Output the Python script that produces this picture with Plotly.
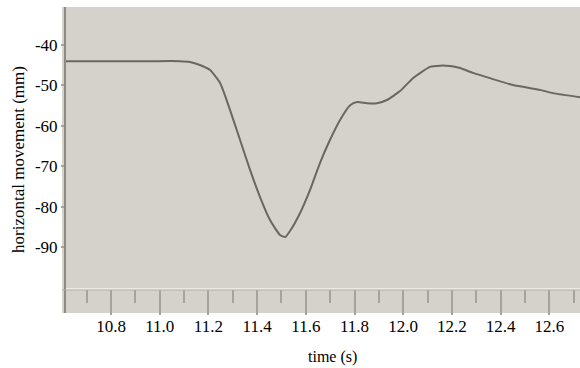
import plotly.graph_objects as go

time_s = [10.607, 10.755, 10.96, 11.083, 11.124, 11.165, 11.207, 11.248, 11.289, 11.33,
          11.371, 11.412, 11.453, 11.494, 11.515, 11.535, 11.576, 11.617, 11.658, 11.699,
          11.74, 11.782, 11.81, 11.851, 11.892, 11.933, 11.987, 12.04, 12.11, 12.151,
          12.192, 12.233, 12.287, 12.356, 12.451, 12.562, 12.615, 12.726]
movement_mm = [-44.0, -44.0, -44.0, -44.0, -44.2, -44.95, -46.2, -49.4, -56.1, -63.5,
               -70.9, -77.6, -83.3, -87.0, -87.5, -86.0, -81.6, -75.9, -69.2, -63.5,
               -58.6, -54.9, -54.1, -54.4, -54.4, -53.6, -51.4, -48.2, -45.4, -45.1,
               -45.2, -45.7, -46.9, -48.2, -49.9, -51.1, -51.9, -52.9]
x_ticks = [10.8, 11.0, 11.2, 11.4, 11.6, 11.8, 12.0, 12.2, 12.4, 12.6]
y_ticks = [-40, -50, -60, -70, -80, -90]
x_title = "time (s)"
y_title = "horizontal movement (mm)"

PANEL = "#d5d1cb"
FONT = "Liberation Serif"

fig = go.Figure()
fig.add_trace(go.Scatter(x=time_s, y=movement_mm, mode="lines",
                         line=dict(color="#6a6763", width=2, shape="spline", smoothing=0.5),
                         hoverinfo="skip", showlegend=False))

W, H = 580, 368
ml, mr, mt, mb = 65, 0, 7, 80
pw, ph = W - ml - mr, H - mt - mb

# grey panel including bottom tick strip
fig.add_shape(type="rect", xref="paper", yref="paper",
              x0=-3 / pw, x1=1, y0=-25 / ph, y1=1,
              fillcolor=PANEL, line=dict(width=0), layer="below")
# vertical axis line running through the strip
fig.add_shape(type="line", xref="paper", yref="paper",
              x0=0, x1=0, y0=-25 / ph, y1=1,
              line=dict(color="#8d8983", width=2))
# darker edge under the light strip line
fig.add_shape(type="line", xref="paper", yref="paper",
              x0=-3 / pw, x1=1, y0=-2 / ph, y1=-2 / ph,
              line=dict(color="#b3afa9", width=1))

# axis titles
fig.add_annotation(text=y_title, xref="paper", yref="paper",
                   x=(18 - ml) / pw, y=(H - mb - 160) / ph, textangle=-90,
                   showarrow=False, xanchor="center", yanchor="middle",
                   font=dict(family=FONT, size=17, color="black"))
fig.add_annotation(text=x_title, xref="paper", yref="paper",
                   x=(332 - ml) / pw, y=(H - mb - 357) / ph,
                   showarrow=False, xanchor="center", yanchor="middle",
                   font=dict(family=FONT, size=16, color="black"))

fig.update_layout(
    width=W, height=H,
    margin=dict(l=ml, r=mr, t=mt, b=mb),
    paper_bgcolor="white", plot_bgcolor=PANEL,
    font=dict(family=FONT, size=17, color="black"),
    xaxis=dict(range=[10.611, 12.726], tickvals=x_ticks, ticktext=[f"{v:.1f}" for v in x_ticks],
               ticks="outside", ticklen=25, tickwidth=1.5, tickcolor="#a6a29c",
               minor=dict(ticks="outside", ticklen=13, tickwidth=1.5, tickcolor="#a6a29c",
                          dtick=0.2, tick0=10.7),
               showline=True, linecolor="#ece9e4", linewidth=2,
               showgrid=False, zeroline=False,
               ticklabelstandoff=-3,
               tickfont=dict(family=FONT, size=17, color="black")),
    yaxis=dict(range=[-100.1, -30.6], tickvals=y_ticks, ticktext=[str(v) for v in y_ticks],
               ticks="outside", ticklen=3, tickwidth=1.5, tickcolor="#a6a29c",
               showline=False, showgrid=False, zeroline=False,
               tickfont=dict(family=FONT, size=17, color="black")),
)

fig.write_html("out.html", config={"displayModeBar": False},
               post_script="document.body.style.margin='0px';")
